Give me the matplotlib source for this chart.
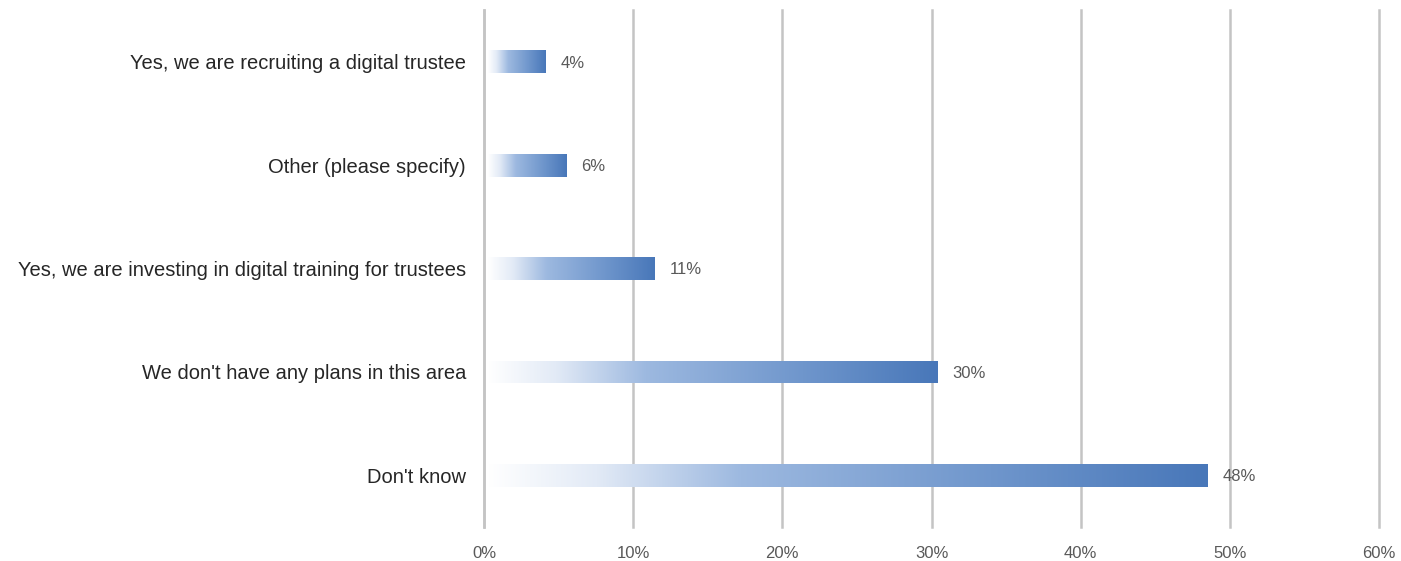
import numpy as np
import matplotlib.pyplot as plt
from matplotlib.colors import LinearSegmentedColormap
from matplotlib.ticker import PercentFormatter

categories = ["Don't know",
              "We don't have any plans in this area",
              "Yes, we are investing in digital training for trustees",
              "Other (please specify)",
              "Yes, we are recruiting a digital trustee"]
values = [48.5, 30.4, 11.4, 5.5, 4.1]
value_labels = ["48%", "30%", "11%", "6%", "4%"]
xticks = [0, 10, 20, 30, 40, 50, 60]

plt.rcParams['font.family'] = ['Liberation Sans', 'DejaVu Sans']

fig = plt.figure(figsize=(14.01, 5.61), dpi=100)
ax = fig.add_axes([0.3455, 0.0606, 0.6388, 0.9215])

y = np.arange(len(categories))
bars = ax.barh(y, values, height=0.22, color='none', edgecolor='none', zorder=3)

# gradient: near white on the left to blue on the right
cmap = LinearSegmentedColormap.from_list(
    'grad', [(0, '#ffffff'), (0.15, '#e2eaf6'), (0.35, '#9db9e0'),
             (0.7, '#6f96cc'), (1, '#4877b9')])
ramp = np.linspace(0, 1, 256).reshape(1, -1)
for b in bars:
    x0, y0 = b.get_x(), b.get_y()
    im = ax.imshow(ramp, cmap=cmap, aspect='auto', zorder=3,
                   extent=[x0 + 0.25, x0 + b.get_width(), y0, y0 + b.get_height()])
    im.set_clip_path(b)

for v, lab, yy in zip(values, value_labels, y):
    ax.annotate(lab, (v, yy), xytext=(11, -1), textcoords='offset points',
                va='center', ha='left', fontsize=12, color='#595959', zorder=4)

ax.set_xlim(0, 60)
ax.set_ylim(-0.5, len(categories) - 0.5)
ax.set_xticks(xticks)
ax.xaxis.set_major_formatter(PercentFormatter(decimals=0))
ax.set_yticks(y)
ax.set_yticklabels(categories)
ax.grid(axis='x', color='#c4c4c4', linewidth=1.8, zorder=0)
for line in ax.get_xgridlines():
    line.set_clip_on(False)
for s in ['top', 'right', 'bottom']:
    ax.spines[s].set_visible(False)
ax.spines['left'].set_color('#c4c4c4')
ax.spines['left'].set_linewidth(1.8)
ax.tick_params(axis='x', length=0, pad=14, labelsize=12, labelcolor='#595959')
ax.tick_params(axis='y', length=0, pad=13, labelsize=14.5, labelcolor='#262626')

fig.savefig('out.png', dpi=100)
